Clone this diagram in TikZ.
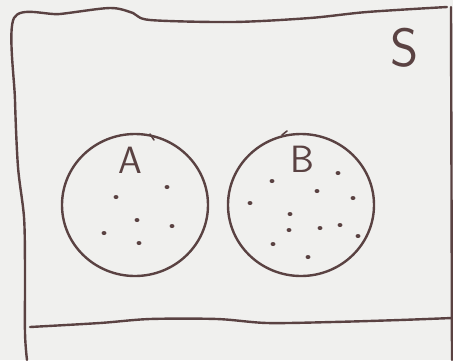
\documentclass[tikz,border=0pt]{standalone}
\usepackage{xcolor}
\usepackage{tikz}
\usetikzlibrary{shapes.geometric, positioning}

\definecolor{ink}{HTML}{5A4242}
\definecolor{paper}{HTML}{F0F0EE}

\begin{document}
\begin{tikzpicture}[x=1pt, y=-1pt]
    % Define styles
    \tikzstyle{pen} = [draw=ink, line width=2.4pt, line cap=round, line join=round]
    \tikzstyle{setcircle} = [ellipse, pen, minimum width=146pt, minimum height=142pt, inner sep=0pt]
    \tikzstyle{setlabel} = [text=ink, font=\sffamily\fontsize{38}{40}\selectfont, inner sep=0pt]
    \tikzstyle{elem} = [fill=ink, ellipse, minimum width=5pt, minimum height=4pt, inner sep=0pt]

    % Paper
    \fill[paper] (0,0) rectangle (453,360);
    \useasboundingbox (0,0) rectangle (453,360);

    % Sample space
    \draw[pen] plot[smooth] coordinates {(27,360) (25,333) (25,267) (24,217) (18,167) (15,100) (14,18)
        (60,14) (110,8) (133,13) (150,20) (233,22) (310,18) (367,12) (447,7)};
    \draw[pen] (451,7) -- (452,360);
    \draw[pen] plot[smooth] coordinates {(30,327) (100,323) (150,319) (217,319) (267,323) (333,322) (400,320) (452,318)};
    \node[text=ink, font=\sffamily\fontsize{54}{56}\selectfont, inner sep=0pt] (S) at (405,48) {S};

    % Sets
    \node[setcircle] (setA) at (135,205) {};
    \node[setcircle] (setB) at (301,205) {};
    \draw[pen, line width=1.6pt] (150,134) -- (154,140);
    \draw[pen, line width=1.6pt] (282,135) -- (287,131);
    \node[setlabel] (labelA) at (130,160) {A};
    \node[setlabel] (labelB) at (302,159) {B};

    % Elements of A
    \foreach \px/\py in {167/187, 116/197, 137/220, 172/226, 104/233, 139/243}
        \node[elem] at (\px,\py) {};

    % Elements of B
    \foreach \px/\py in {338/173, 272/181, 317/191, 353/198, 250/203, 290/214,
                         289/230, 320/228, 340/225, 358/236, 273/244, 308/257}
        \node[elem] at (\px,\py) {};
\end{tikzpicture}
\end{document}
